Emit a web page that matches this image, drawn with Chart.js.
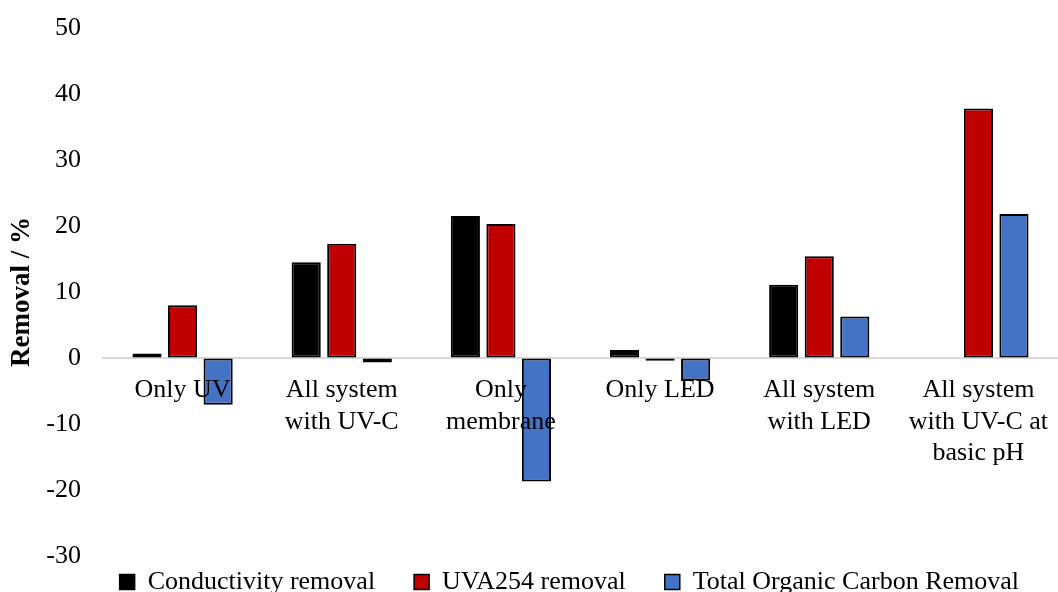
<!DOCTYPE html>
<html>
<head>
<meta charset="utf-8">
<script src="https://cdn.jsdelivr.net/npm/chart.js@4/dist/chart.umd.min.js"></script>
<style>
  html, body { margin: 0; padding: 0; background: #ffffff; }
  #wrap { width: 1058px; height: 592px; }
</style>
</head>
<body>
<div id="wrap"><canvas id="chart" width="1058" height="592"></canvas></div>
<script>
// Treatment configurations (multi-line axis labels)
const categories = [
  ['Only UV'],
  ['All system', 'with UV-C'],
  ['Only', 'membrane'],
  ['Only LED'],
  ['All system', 'with LED'],
  ['All system', 'with UV-C at', 'basic pH']
];

// Removal percentages per treatment
const conductivityRemoval = [0.7, 14.5, 21.5, 1.2, 11.1, 0];
const uva254Removal = [8.0, 17.3, 20.3, -0.4, 15.4, 37.8];
const tocRemoval = [-7.1, -0.7, -18.7, -3.4, 6.3, 21.8];

const seriesNames = ['Conductivity removal', 'UVA254 removal', 'Total Organic Carbon Removal'];

// Value axis range
const yMin = -30;
const yMax = 50;
const yStep = 10;

const serif = '"Liberation Serif", "Times New Roman", Times, serif';
Chart.defaults.font.family = serif;
Chart.defaults.color = '#000000';

// Extra trailing spacing after each legend entry
const legendGaps = ['    ', '    ', '    '];

const barStyle = {
  borderColor: '#000000',
  borderWidth: 2,
  borderSkipped: false,
  categoryPercentage: 0.67,
  barPercentage: 0.82
};

// Invisible tick marks keep labels offset from the axis line
const hiddenTickGrid = {
  display: true,
  drawOnChartArea: false,
  drawTicks: true,
  tickLength: 14,
  color: 'rgba(0,0,0,0)'
};

new Chart(document.getElementById('chart'), {
  type: 'bar',
  data: {
    labels: categories,
    datasets: [
      Object.assign({ label: seriesNames[0], data: conductivityRemoval, backgroundColor: '#000000' }, barStyle),
      Object.assign({ label: seriesNames[1], data: uva254Removal, backgroundColor: '#C00000' }, barStyle),
      Object.assign({ label: seriesNames[2], data: tocRemoval, backgroundColor: '#4472C4' }, barStyle)
    ]
  },
  options: {
    responsive: false,
    animation: false,
    devicePixelRatio: 1,
    layout: { padding: { top: 28, right: 0, bottom: -13, left: 0 } },
    plugins: {
      tooltip: { enabled: false },
      legend: {
        position: 'bottom',
        align: 'end',
        labels: {
          boxWidth: 15,
          boxHeight: 15,
          padding: 13,
          color: '#000000',
          font: { size: 26, family: serif },
          generateLabels(chart) {
            const items = Chart.defaults.plugins.legend.labels.generateLabels(chart);
            items.forEach((it, i) => {
              it.text = it.text + legendGaps[i];
              it.lineWidth = 1.5;
              it.strokeStyle = '#000000';
            });
            return items;
          }
        }
      }
    },
    scales: {
      x: {
        position: { y: 0 },
        grid: hiddenTickGrid,
        border: { display: true, color: '#D9D9D9', width: 2 },
        ticks: {
          z: 1,
          padding: 3,
          maxRotation: 0,
          minRotation: 0,
          autoSkip: false,
          color: '#000000',
          font: { size: 26, family: serif, lineHeight: 1.2 }
        }
      },
      y: {
        min: yMin,
        max: yMax,
        afterFit(scale) { scale.width = 103; },
        grid: Object.assign({}, hiddenTickGrid, { tickLength: 14 }),
        border: { display: false },
        ticks: {
          stepSize: yStep,
          padding: 8,
          color: '#000000',
          font: { size: 26, family: serif }
        },
        title: {
          display: true,
          text: 'Removal / %',
          color: '#000000',
          padding: { top: 6, bottom: 8 },
          font: { size: 27, weight: 'bold', family: serif }
        }
      }
    }
  }
});
</script>
</body>
</html>
